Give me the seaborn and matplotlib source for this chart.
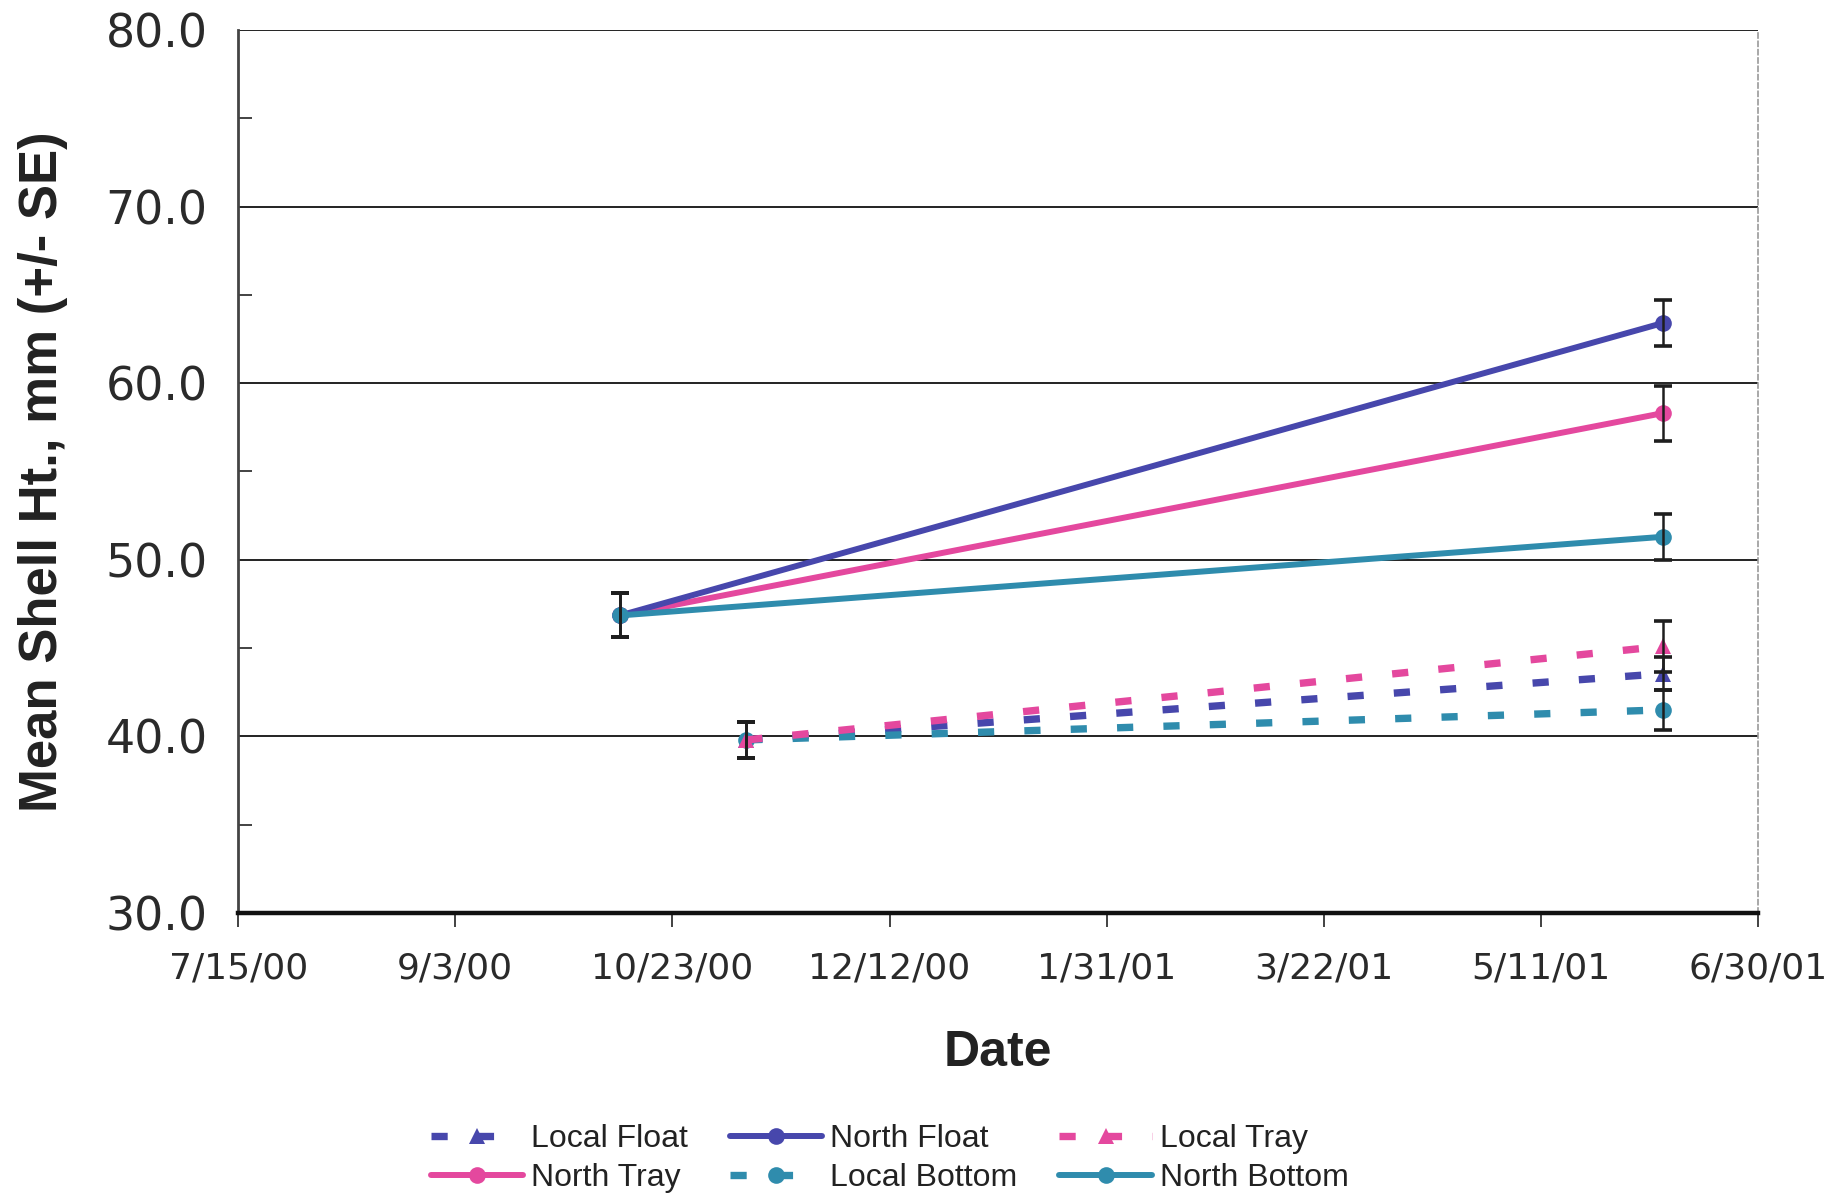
import matplotlib
matplotlib.use("Agg")
import matplotlib.pyplot as plt
import matplotlib.dates as mdates
from matplotlib.ticker import FixedLocator, MultipleLocator
import pandas as pd
import seaborn as sns

# ---- data -------------------------------------------------------------
north_dates = ["2000-10-11", "2001-06-08"]
local_dates = ["2000-11-09", "2001-06-08"]

north_float = [46.85, 63.4]
north_float_se = [1.25, 1.3]
north_tray = [46.85, 58.3]
north_tray_se = [1.25, 1.55]
north_bottom = [46.85, 51.3]
north_bottom_se = [1.25, 1.3]

local_float = [39.8, 43.55]
local_float_se = [1.0, 0.95]
local_tray = [39.8, 45.1]
local_tray_se = [1.0, 1.45]
local_bottom = [39.8, 41.5]
local_bottom_se = [1.0, 1.15]

x_tick_labels = ["7/15/00", "9/3/00", "10/23/00", "12/12/00",
                 "1/31/01", "3/22/01", "5/11/01", "6/30/01"]
y_ticks = [30.0, 40.0, 50.0, 60.0, 70.0, 80.0]

series = {
    "Local Float": (local_dates, local_float, local_float_se),
    "North Float": (north_dates, north_float, north_float_se),
    "Local Tray": (local_dates, local_tray, local_tray_se),
    "North Tray": (north_dates, north_tray, north_tray_se),
    "Local Bottom": (local_dates, local_bottom, local_bottom_se),
    "North Bottom": (north_dates, north_bottom, north_bottom_se),
}

rows = []
for name, (dates, vals, ses) in series.items():
    for d, v, s in zip(dates, vals, ses):
        rows.append({"series": name, "date": pd.Timestamp(d), "height": v, "se": s})
df = pd.DataFrame(rows)

# ---- styling ------------------------------------------------------------
FLOAT_C = "#4747AC"
TRAY_C = "#E4489E"
BOTTOM_C = "#2F8CAD"
palette = {"Local Float": FLOAT_C, "North Float": FLOAT_C,
           "Local Tray": TRAY_C, "North Tray": TRAY_C,
           "Local Bottom": BOTTOM_C, "North Bottom": BOTTOM_C}
markers = {"Local Float": "^", "North Float": "o", "Local Tray": "^",
           "North Tray": "o", "Local Bottom": "o", "North Bottom": "o"}
DASH = (2.2, 4.1)
DASH_LW = 5.3
SOLID_LW = 4.3
dashes = {"Local Float": DASH, "North Float": "",
          "Local Tray": DASH, "North Tray": "",
          "Local Bottom": DASH, "North Bottom": ""}
# column-major order so the 3-column legend reads row by row
order = ["Local Float", "North Tray", "North Float",
         "Local Bottom", "Local Tray", "North Bottom"]

sns.set_theme(style="white")
plt.rcParams["font.family"] = ["Liberation Sans", "DejaVu Sans"]
plt.rcParams["text.color"] = "#222222"

fig = plt.figure(figsize=(18.46, 11.96), dpi=100)
ax = fig.add_axes([0.129, 0.2366, 0.8234, 0.7384])

sns.lineplot(data=df, x="date", y="height", hue="series", style="series",
             hue_order=order, style_order=order, palette=palette,
             markers=markers, dashes=dashes, linewidth=SOLID_LW, markersize=12,
             markeredgewidth=0, ax=ax)

# thicker stroke for the dashed (local) series
for ln in ax.get_lines():
    if ln.get_linestyle() not in ("-", "solid"):
        ln.set_linewidth(DASH_LW)
        ln.set_linestyle((0, DASH))
        ln.set_dash_capstyle("butt")

# standard-error bars
for name in order:
    sub = df[df["series"] == name]
    ax.errorbar(sub["date"], sub["height"], yerr=sub["se"], fmt="none",
                ecolor="#1e1e1e", elinewidth=1.8, capsize=6.5, capthick=2.6,
                zorder=5)

# ---- axes ---------------------------------------------------------------
x_ticks = [mdates.date2num(pd.to_datetime(t, format="%m/%d/%y")) for t in x_tick_labels]
ax.set_xlim(x_ticks[0], x_ticks[-1])
ax.set_ylim(y_ticks[0], y_ticks[-1])
ax.xaxis.set_major_locator(FixedLocator(x_ticks))
ax.set_xticklabels(x_tick_labels, fontfamily="DejaVu Sans")
ax.yaxis.set_major_locator(FixedLocator(y_ticks))
ax.set_yticklabels([f"{v:.1f}" for v in y_ticks], fontfamily="DejaVu Sans")
ax.yaxis.set_minor_locator(MultipleLocator(5))

ax.tick_params(axis="y", which="major", direction="out", length=10, width=1.2,
               color="#222222", labelsize=33, pad=12, labelcolor="#2a2a2a")
ax.tick_params(axis="y", which="minor", direction="in", left=True, length=10,
               width=1.2, color="#222222")
ax.tick_params(axis="x", which="major", direction="out", bottom=True, length=10,
               width=1.2, color="#222222", labelsize=26, pad=18, labelcolor="#2a2a2a")

ax.yaxis.grid(True, which="major", color="#111111", linewidth=1.3)
ax.xaxis.grid(False)

ax.spines["top"].set_visible(False)
ax.spines["left"].set_color("#444444")
ax.spines["left"].set_linewidth(2.0)
ax.spines["bottom"].set_color("#111111")
ax.spines["bottom"].set_linewidth(3.2)
ax.spines["right"].set_color("#9a9a9a")
ax.spines["right"].set_linewidth(1.2)
ax.spines["right"].set_linestyle((0, (3, 2)))

ax.set_ylabel("Mean Shell Ht., mm (+/- SE)", fontsize=38, fontweight="bold",
              color="#222222")
ax.yaxis.set_label_coords(-0.112, 0.5)
ax.set_xlabel("Date", fontsize=36, fontweight="bold", color="#222222", va="top")
ax.xaxis.set_label_coords(0.5, -0.132)

sns.move_legend(ax, "center", bbox_to_anchor=(0.482, 0.031),
                bbox_transform=fig.transFigure, ncol=3, frameon=False,
                title=None, fontsize=23, handlelength=2.9, handletextpad=0.25,
                columnspacing=1.3, labelspacing=0.28)
leg = ax.get_legend()
for h in leg.legend_handles:
    if h.get_linestyle() not in ("-", "solid"):
        h.set_linewidth(DASH_LW)
        h.set_linestyle((0, DASH))
    else:
        h.set_linewidth(SOLID_LW)
    h.set_markersize(12)

fig.savefig("out.png", dpi=100)
